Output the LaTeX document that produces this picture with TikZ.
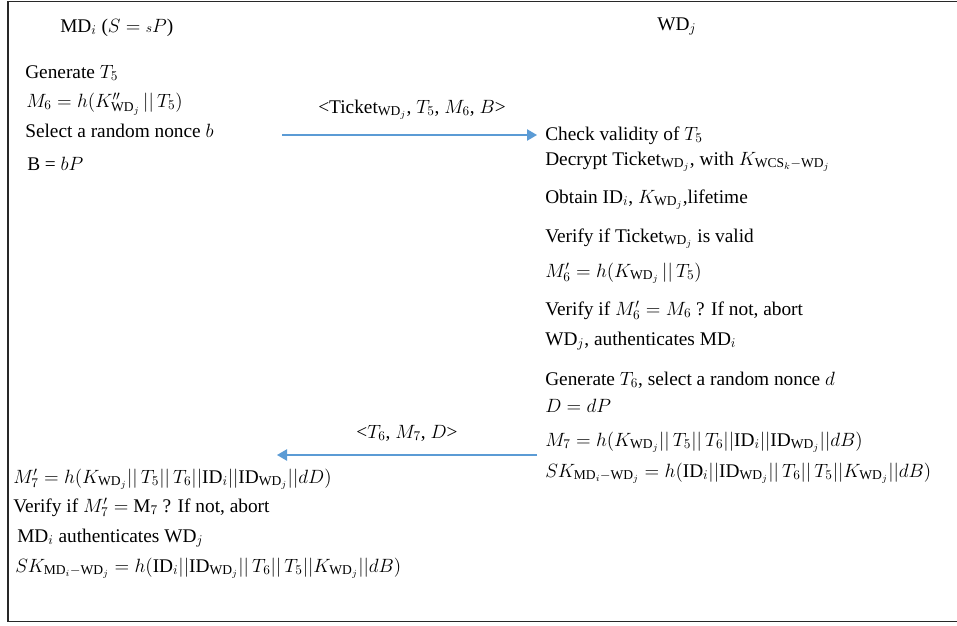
\documentclass[tikz,border=0pt]{standalone}
\usepackage{amsmath}
\usepackage{fontspec}
\setmainfont{Liberation Serif}
\usepackage{xcolor}
\usetikzlibrary{arrows.meta, positioning}

\definecolor{msgblue}{RGB}{91,155,213}
\definecolor{framegray}{RGB}{40,40,40}
\newcommand{\WD}{\mathrm{WD}_j}
\newcommand{\IDi}{\mathrm{ID}_i}

\begin{document}
\begin{tikzpicture}[
    x=0.75pt, y=-0.75pt,
    step text/.style={anchor=base west, inner sep=0pt, font=\fontsize{14.5}{16}\selectfont},
    party/.style={anchor=base west, inner sep=0pt, font=\fontsize{14.5}{16}\selectfont},
    msg/.style={anchor=base, inner sep=0pt, font=\fontsize{14.5}{16}\selectfont},
    arrow/.style={-{Triangle[length=7.5pt, width=8.5pt]}, draw=msgblue, line width=1pt}
]
    \useasboundingbox (0,0) rectangle (957,625);
    \draw[framegray, line width=1.2pt] (957,1.5) -- (8,1.5) -- (8,621.5) -- (957,621.5);

    \node[party] (md) at (60,32) {MD$_i$ ($S = {\scriptstyle s}P$)};
    \node[party] (wd) at (657,30) {WD$_j$};

    \node[step text] (gen5) at (25,78) {Generate $T_5$};
    \node[step text] (m6) at (26,107) {$M_6 = h(K''_{\WD} \,||\, T_5)$};
    \node[step text] (selb) at (25,137) {Select a random nonce $b$};
    \node[step text] (bdef) at (27,170) {B = $bP$};

    \node[step text] (chk) at (545,140) {Check validity of $T_5$};
    \node[step text] (dec) at (545,165) {Decrypt Ticket$_{\WD}$, with $K_{\mathrm{WCS}_k-\WD}$};
    \node[step text] (obt) at (545,203) {Obtain ID$_i$, $K_{\WD}$,lifetime};
    \node[step text] (vtk) at (545,242) {Verify if Ticket$_{\WD}$ is valid};
    \node[step text] (m6p) at (545,277) {$M'_6 = h(K_{\WD} \,||\, T_5)$};
    \node[step text] (vm6) at (545,315) {Verify if $M'_6 = M_6$ ? If not, abort};
    \node[step text] (wdau) at (545,345) {WD$_j$, authenticates MD$_i$};
    \node[step text] (gen6) at (545,385) {Generate $T_6$, select a random nonce $d$};
    \node[step text] (ddef) at (545,412) {$D = dP$};
    \node[step text] (m7) at (545,446) {$M_7 = h(K_{\WD}||\,T_5||\,T_6||\IDi||\mathrm{ID}_{\WD}||dB)$};
    \node[step text] (skw) at (545,477) {$SK_{\mathrm{MD}_i-\WD} = h(\IDi||\mathrm{ID}_{\WD}||\,T_6||\,T_5||K_{\WD}||dB)$};

    \node[step text] (m7p) at (13,483) {$M'_7 = h(K_{\WD}||\,T_5||\,T_6||\IDi||\mathrm{ID}_{\WD}||dD)$};
    \node[step text] (vm7) at (13,512) {Verify if $M'_7 =$ M$_7$ ? If not, abort};
    \node[step text] (mdau) at (17,542) {MD$_i$ authenticates WD$_j$};
    \node[step text] (skm) at (15,572) {$SK_{\mathrm{MD}_i-\WD} = h(\IDi||\mathrm{ID}_{\WD}||\,T_6||\,T_5||K_{\WD}||dB)$};

    \coordinate (out1) at (282,135);
    \coordinate (in1) at (537,135);
    \coordinate (out2) at (537,455);
    \coordinate (in2) at (277,455);
    \node[msg] (lab1) at (412,113) {<Ticket$_{\WD}$, $T_5$, $M_6$, $B$>};
    \node[msg] (lab2) at (407,438) {<$T_6$, $M_7$, $D$>};

    \draw[arrow] (out1) -- (in1);
    \draw[arrow] (out2) -- (in2);
\end{tikzpicture}
\end{document}
